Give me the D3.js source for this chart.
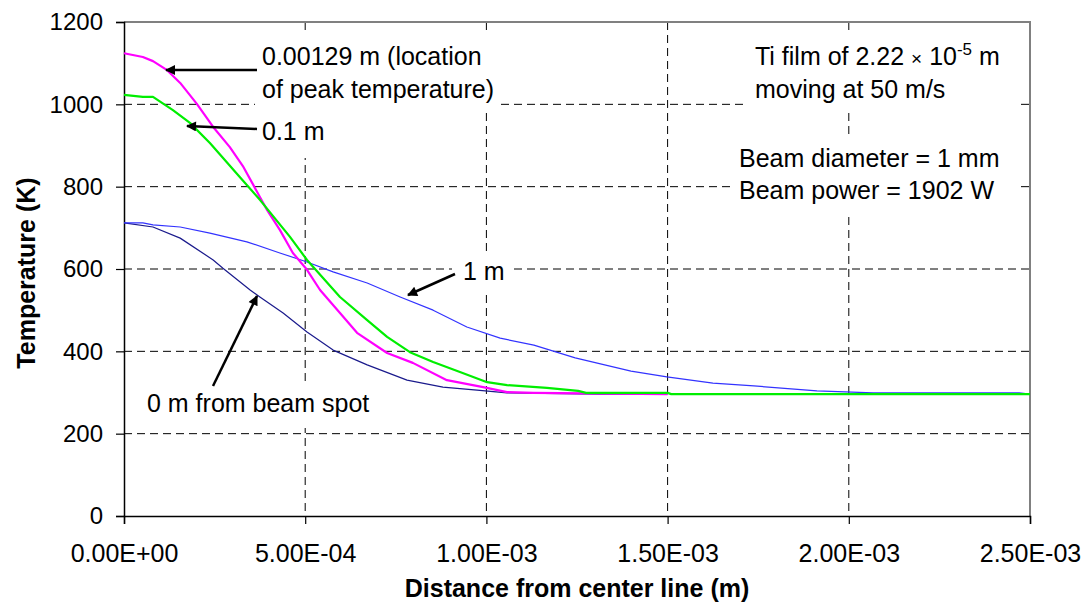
<!DOCTYPE html>
<html>
<head>
<meta charset="utf-8">
<script src="https://cdn.jsdelivr.net/npm/d3@7"></script>
<style>
  body { margin: 0; background: #fff; }
  text { font-family: "Liberation Sans", Arial, sans-serif; fill: #000; }
</style>
</head>
<body>
<div id="chart"></div>
<script>
// Data (distance in m, temperature in K)
let peakDist = [0, 5.2e-5, 8.0e-5, 1.19e-4, 1.55e-4, 2.01e-4, 2.46e-4, 2.92e-4, 3.28e-4, 3.75e-4, 3.95e-4, 4.30e-4, 4.66e-4, 5.05e-4, 5.41e-4, 5.96e-4, 6.43e-4, 7.26e-4, 7.97e-4, 8.91e-4, 9.91e-4, 1.057e-3, 1.13e-3, 1.5e-3];
let peakTemp = [1124, 1115, 1105, 1083, 1052, 1001, 945, 896, 850, 775, 743, 695, 639, 598, 549, 493, 445, 396, 372, 330, 313, 301, 299, 296];

let tenthDist = [0, 5.2e-5, 8.0e-5, 1.35e-4, 1.82e-4, 2.37e-4, 3.20e-4, 3.75e-4, 4.58e-4, 5.05e-4, 5.96e-4, 6.71e-4, 7.26e-4, 7.89e-4, 8.53e-4, 9.27e-4, 1.002e-3, 1.057e-3, 1.167e-3, 1.253e-3, 1.275e-3, 1.5e-3, 1.51e-3, 2.5e-3];
let tenthTemp = [1023, 1018, 1018, 986, 955, 906, 823, 768, 678, 622, 532, 476, 435, 398, 374, 350, 325, 318, 311, 304, 299, 299, 296, 296];

let oneDist = [0, 5.2e-5, 8.0e-5, 1.55e-4, 2.37e-4, 3.39e-4, 4.30e-4, 5.05e-4, 5.77e-4, 6.71e-4, 7.62e-4, 8.53e-4, 9.46e-4, 1.038e-3, 1.131e-3, 1.245e-3, 1.399e-3, 1.498e-3, 1.625e-3, 1.738e-3, 1.912e-3, 2.067e-3, 2.47e-3, 2.5e-3];
let oneTemp = [712, 712, 707, 702, 687, 666, 639, 617, 593, 566, 532, 500, 459, 432, 415, 384, 352, 338, 323, 316, 304, 299, 299, 296];

let zeroDist = [0, 8.0e-5, 1.55e-4, 2.46e-4, 2.73e-4, 3.48e-4, 3.75e-4, 4.39e-4, 5.05e-4, 5.77e-4, 6.71e-4, 7.81e-4, 8.80e-4, 9.74e-4, 1.057e-3, 1.31e-3, 1.5e-3];
let zeroTemp = [712, 702, 675, 622, 602, 549, 532, 493, 447, 403, 367, 330, 313, 306, 299, 296, 296];

let xTicks = [0, 5e-4, 1e-3, 1.5e-3, 2e-3, 2.5e-3];
let xTickLabels = ["0.00E+00", "5.00E-04", "1.00E-03", "1.50E-03", "2.00E-03", "2.50E-03"];
let yTicks = [0, 200, 400, 600, 800, 1000, 1200];

// dimensions
let width = 1087;
let height = 614;
let plotLeft = 124, plotRight = 1030, plotTop = 22, plotBottom = 516;

let svg = d3.select("#chart")
    .append("svg")
    .attr("width", width)
    .attr("height", height);

let x = d3.scaleLinear().domain([0, 2.5e-3]).range([plotLeft, plotRight]);
let y = d3.scaleLinear().domain([0, 1200]).range([plotBottom, plotTop]);

// arrow marker
svg.append("defs").append("marker")
    .attr("id", "arrow")
    .attr("viewBox", "0 0 10 10")
    .attr("refX", 9).attr("refY", 5)
    .attr("markerWidth", 5).attr("markerHeight", 4)
    .attr("markerUnits", "strokeWidth")
    .attr("orient", "auto")
    .append("path")
    .attr("d", "M0,0 L10,5 L0,10 z")
    .attr("fill", "#000");

// gridlines
svg.append("g").selectAll("line")
    .data(yTicks.filter(d => d > 0 && d < 1200))
    .enter().append("line")
    .attr("x1", plotLeft).attr("x2", plotRight)
    .attr("y1", d => y(d)).attr("y2", d => y(d))
    .attr("stroke", "#000").attr("stroke-width", 1)
    .attr("stroke-dasharray", "8,5");

svg.append("g").selectAll("line")
    .data(xTicks.filter(d => d > 0 && d < 2.5e-3))
    .enter().append("line")
    .attr("y1", plotTop).attr("y2", plotBottom)
    .attr("x1", d => x(d)).attr("x2", d => x(d))
    .attr("stroke", "#000").attr("stroke-width", 1)
    .attr("stroke-dasharray", "8,5");

// plot border (top/right grey)
svg.append("path")
    .attr("d", "M" + plotLeft + "," + plotTop + "H" + plotRight + "V" + plotBottom)
    .attr("fill", "none")
    .attr("stroke", "#808080")
    .attr("stroke-width", 2);

// white boxes behind the annotation text
let boxes = [
    [255, 30, 500, 110],
    [255, 110, 322, 158],
    [452, 252, 514, 290],
    [140, 384, 382, 428],
    [747, 32, 1019, 112],
    [735, 137, 1019, 214]
];
svg.append("g").selectAll("rect")
    .data(boxes)
    .enter().append("rect")
    .attr("x", d => d[0]).attr("y", d => d[1])
    .attr("width", d => d[2] - d[0]).attr("height", d => d[3] - d[1])
    .attr("fill", "#fff");

// axes
let xAxis = d3.axisBottom(x)
    .tickValues(xTicks)
    .tickFormat((d, i) => xTickLabels[i])
    .tickSizeOuter(0)
    .tickSize(8)
    .tickPadding(20);
let gx = svg.append("g")
    .attr("transform", "translate(0," + plotBottom + ")")
    .call(xAxis);
gx.select(".domain").attr("stroke", "#000").attr("stroke-width", 1.5);
gx.selectAll(".tick line").attr("stroke", "#000").attr("stroke-width", 1.2);
gx.selectAll("text").style("font-size", "25px").attr("fill", "#000");

let yAxis = d3.axisLeft(y)
    .tickValues(yTicks)
    .tickFormat(d3.format("d"))
    .tickSizeOuter(0)
    .tickSize(8)
    .tickPadding(13);
let gy = svg.append("g")
    .attr("transform", "translate(" + plotLeft + ",0)")
    .call(yAxis);
gy.select(".domain").attr("stroke", "#000").attr("stroke-width", 1.5);
gy.selectAll(".tick line").attr("stroke", "#000").attr("stroke-width", 1.2);
gy.selectAll("text").style("font-size", "24px").attr("fill", "#000");

// series
let line = d3.line()
    .x(d => x(d[0]))
    .y(d => y(d[1]));

let series = [
    { dist: zeroDist, temp: zeroTemp, color: "#1a1a8c", w: 1.2 },
    { dist: oneDist, temp: oneTemp, color: "#3333ff", w: 1.2 },
    { dist: peakDist, temp: peakTemp, color: "#ff00ff", w: 2.2 },
    { dist: tenthDist, temp: tenthTemp, color: "#00ee00", w: 2.2 }
];
series.forEach(function (s) {
    svg.append("path")
        .datum(d3.zip(s.dist, s.temp))
        .attr("fill", "none")
        .attr("stroke", s.color)
        .attr("stroke-width", s.w)
        .attr("stroke-linejoin", "round")
        .attr("d", line);
});

// arrows
let arrows = [
    [257, 70, 166, 70],
    [257, 129, 187, 126],
    [455, 274, 408, 295],
    [213, 386, 257, 296]
];
svg.append("g").selectAll("line")
    .data(arrows)
    .enter().append("line")
    .attr("x1", d => d[0]).attr("y1", d => d[1])
    .attr("x2", d => d[2]).attr("y2", d => d[3])
    .attr("stroke", "#000")
    .attr("stroke-width", 2.5)
    .attr("marker-end", "url(#arrow)");

// annotation text
let notes = [
    ["0.00129 m (location", 262, 65],
    ["of peak temperature)", 262, 98],
    ["0.1 m", 262, 140],
    ["1 m", 463, 280],
    ["0 m from beam spot", 147, 412],
    ["moving at 50 m/s", 755, 98],
    ["Beam diameter = 1 mm", 739, 167],
    ["Beam power = 1902 W", 739, 199]
];
svg.append("g").selectAll("text")
    .data(notes)
    .enter().append("text")
    .attr("x", d => d[1]).attr("y", d => d[2])
    .style("font-size", "25px")
    .text(d => d[0]);

let ti = svg.append("text")
    .attr("x", 755).attr("y", 65)
    .style("font-size", "25px");
ti.append("tspan").text("Ti film of 2.22 ");
ti.append("tspan").style("font-size", "19px").text("\u00d7");
ti.append("tspan").text(" 10");
ti.append("tspan").attr("dy", -10).style("font-size", "17px").text("-5");
ti.append("tspan").attr("dy", 10).text(" m");

// axis titles
svg.append("text")
    .attr("x", (plotLeft + plotRight) / 2)
    .attr("y", 597)
    .attr("text-anchor", "middle")
    .style("font-size", "25px")
    .style("font-weight", "bold")
    .text("Distance from center line (m)");

svg.append("text")
    .attr("transform", "translate(35," + 273 + ") rotate(-90)")
    .attr("text-anchor", "middle")
    .style("font-size", "25px")
    .style("font-weight", "bold")
    .text("Temperature (K)");
</script>
</body>
</html>
